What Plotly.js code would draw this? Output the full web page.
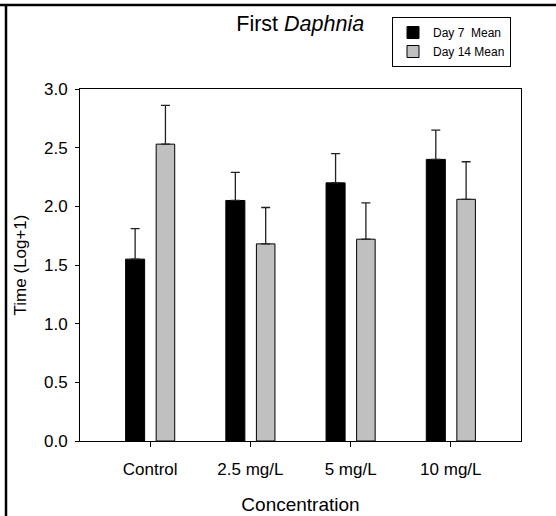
<!DOCTYPE html>
<html>
<head>
<meta charset="utf-8">
<script src="https://cdn.plot.ly/plotly-3.0.1.min.js"></script>
<style>html,body{margin:0;padding:0;background:#fff;}#chart{width:556px;height:516px;}</style>
</head>
<body>
<div id="chart"></div>
<script>
// Data
const categories = ["Control", "2.5 mg/L", "5 mg/L", "10 mg/L"];
const day7Mean = [1.55, 2.05, 2.20, 2.40];
const day7Err = [0.26, 0.24, 0.25, 0.25];
const day14Mean = [2.53, 1.68, 1.72, 2.06];
const day14Err = [0.33, 0.31, 0.31, 0.32];
const zeroErr = [0, 0, 0, 0];
const yTickVals = [0, 0.5, 1.0, 1.5, 2.0, 2.5, 3.0];
const yTickText = ["0.0", "0.5", "1.0", "1.5", "2.0", "2.5", "3.0"];

const FONT = "Liberation Sans, Arial, Helvetica, sans-serif";
const ERR_COLOR = "#222";

const traces = [
  {
    type: "bar", name: "Day 7  Mean", x: categories, y: day7Mean,
    width: 0.19, offset: -0.245,
    marker: {color: "#000000", line: {color: "#000000", width: 1}},
    error_y: {type: "data", symmetric: false, array: day7Err, arrayminus: zeroErr,
              color: ERR_COLOR, thickness: 1.3, width: 4.5}
  },
  {
    type: "bar", name: "Day 14 Mean", x: categories, y: day14Mean,
    width: 0.185, offset: 0.06,
    marker: {color: "#c0c0c0", line: {color: "#000000", width: 1}},
    error_y: {type: "data", symmetric: false, array: day14Err, arrayminus: zeroErr,
              color: ERR_COLOR, thickness: 1.3, width: 4.5}
  }
];

const layout = {
  width: 556, height: 516,
  paper_bgcolor: "#fff", plot_bgcolor: "#fff",
  font: {family: FONT, color: "#000", size: 17},
  margin: {l: 80, r: 35, t: 89, b: 75, pad: 0},
  barmode: "overlay",
  showlegend: true,
  title: {text: "First <i>Daphnia</i>", font: {family: FONT, size: 21.5, color: "#000"},
          xref: "container", x: 0.54, xanchor: "center",
          yref: "container", y: 0.955, yanchor: "middle"},
  xaxis: {
    type: "category", range: [-0.7, 3.7],
    showline: true, linecolor: "#000", linewidth: 1, mirror: true,
    ticks: "outside", ticklen: 5, tickcolor: "#000", tickwidth: 1,
    ticklabelstandoff: 8,
    showgrid: false, zeroline: false,
    tickfont: {size: 17, family: FONT, color: "#000"},
    title: {text: "Concentration", font: {size: 19, family: FONT, color: "#000"}, standoff: 19},
    automargin: false
  },
  yaxis: {
    range: [0, 3], tickvals: yTickVals, ticktext: yTickText,
    showline: true, linecolor: "#000", linewidth: 1, mirror: true,
    ticks: "outside", ticklen: 4, tickcolor: "#000", tickwidth: 1,
    ticklabelstandoff: 4,
    showgrid: false, zeroline: false,
    tickfont: {size: 17, family: FONT, color: "#000"},
    title: {text: "Time (Log+1)", font: {size: 17, family: FONT, color: "#000"}, standoff: 13},
    automargin: false
  },
  legend: {
    x: 0.7075, y: 1.2045, xanchor: "left", yanchor: "top",
    xref: "paper", yref: "paper",
    bgcolor: "#fff", bordercolor: "#000", borderwidth: 1,
    font: {size: 12, family: FONT, color: "#000"},
    traceorder: "normal", itemwidth: 30, entrywidth: 80
  },
  shapes: [
    {type: "line", xref: "paper", yref: "paper", x0: -0.1814, x1: 1.08, y0: 1.2386, y1: 1.2386,
     line: {color: "#000", width: 2.5}},
    {type: "line", xref: "paper", yref: "paper", x0: -0.1678, x1: -0.1678, y0: -0.22, y1: 1.2386,
     line: {color: "#000", width: 2.5}}
  ]
};

Plotly.newPlot("chart", traces, layout, {displayModeBar: false, staticPlot: true});
</script>
</body>
</html>
